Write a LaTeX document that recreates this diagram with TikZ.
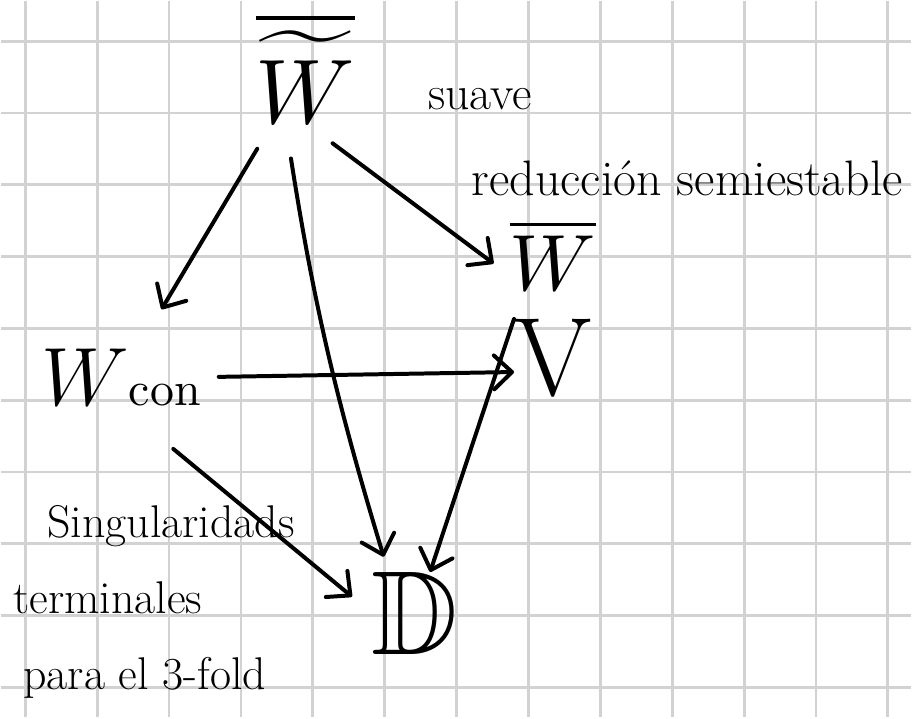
\documentclass[tikz,border=0pt]{standalone}
\usepackage{amsmath, amssymb}
\usepackage{tikz}
\usetikzlibrary{arrows.meta}

\begin{document}
\begin{tikzpicture}[
  x=0.5pt, y=-0.5pt,
  every node/.style={inner sep=0pt, outer sep=0pt},
  gridline/.style={draw=gray!35, line width=1.4pt},
  hand/.style={font=\fontsize{23}{38}\selectfont},
  arrow/.style={line width=2pt, line cap=round, line join=round, -{Straight Barb[length=9pt, width=17pt, round]}}
]

  % hoja cuadriculada
  \fill[white] (0,0) rectangle (912,718);
  \foreach \i in {0,...,12}
    \draw[gridline] (24+72.1*\i, 0) -- (24+72.1*\i, 718);
  \foreach \j in {0,...,9}
    \draw[gridline] (0, 40+72*\j) -- (912, 40+72*\j);
  \useasboundingbox (0,0) rectangle (912,718);

  \node[anchor=base, scale=4.6] (wtop) at (305,122) {$\overline{\widetilde{W}}$};
  \node[anchor=base, hand, font=\fontsize{24}{28}\selectfont] (suave) at (480,108) {suave};
  \node[anchor=base, hand, font=\fontsize{25}{30}\selectfont] (reduccion) at (688,195) {reducción semiestable};
  \node[anchor=base, scale=4] (wbar) at (553,290) {$\overline{W}$};
  \node[anchor=base, scale=2.4] (wcon) at (120,405) {{\LARGE$W$}con};
  \node[anchor=base, font=\fontsize{56}{60}\selectfont] (vnode) at (553,395) {V};
  \node[anchor=base, scale=6] (dnode) at (415,655) {$\mathbb{D}$};
  \node[hand, align=left, anchor=north west] (sing) at (12,506) {\hspace*{17pt}Singularidads\\terminales\\\hspace*{5pt}para el 3-fold};

  \draw[arrow, shorten <=15pt, shorten >=23pt] (wtop) -- (wcon);
  \draw[arrow, shorten <=18pt, shorten >=8pt] (wtop.250) to[bend right=4] (dnode.123);
  \draw[arrow, shorten <=17pt, shorten >=10pt] (wtop.south) -- (wbar.205);
  \draw[arrow, shorten <=9pt] (wcon.east) -- (vnode.200);
  \draw[arrow] (vnode.north west) -- (dnode.70);
  \draw[arrow, shorten <=34pt, shorten >=13pt] (wcon.south) -- (dnode.west);

\end{tikzpicture}
\end{document}
